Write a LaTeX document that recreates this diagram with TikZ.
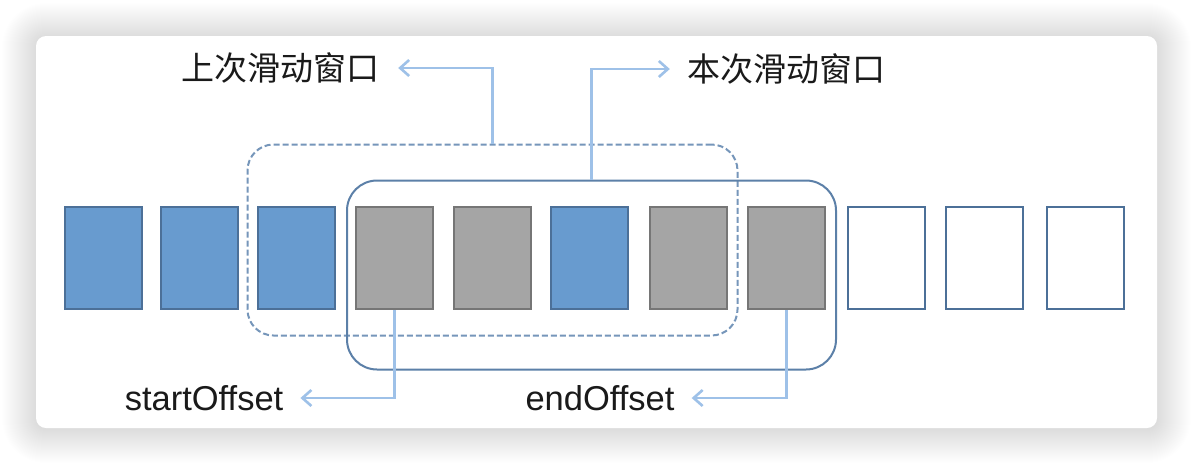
\documentclass[tikz,border=0pt]{standalone}
\usepackage{fontspec}
\setmainfont{Liberation Sans}
\newfontfamily\cjk{Noto Sans CJK SC}
\usetikzlibrary{arrows.meta}
\definecolor{boxblue}{RGB}{104,155,207}
\definecolor{boxedge}{RGB}{76,112,152}
\definecolor{grayfill}{RGB}{165,165,165}
\definecolor{grayedge}{RGB}{118,118,118}
\definecolor{winline}{RGB}{92,128,168}
\definecolor{windash}{RGB}{118,150,186}
\definecolor{arrowblue}{RGB}{158,193,232}
\definecolor{txt}{RGB}{26,26,26}
\tikzset{
  cell/.style={minimum width=77pt,minimum height=102pt,inner sep=0pt,line width=2pt,draw},
  bluecell/.style={cell,fill=boxblue,draw=boxedge},
  graycell/.style={cell,fill=grayfill,draw=grayedge},
  emptycell/.style={cell,fill=white,draw=boxedge},
  prevwin/.style={draw=windash,line width=2pt,dash pattern=on 6pt off 3pt,rounded corners=26pt,minimum width=490pt,minimum height=191pt,inner sep=0pt},
  curwin/.style={draw=winline,line width=2pt,rounded corners=30pt,minimum width=489pt,minimum height=189pt,inner sep=0pt},
  arr/.style={draw=arrowblue,line width=2.6pt,-{Straight Barb[length=9pt,width=16pt]}},
  cjklbl/.style={inner sep=0pt,text=txt,font=\cjk\fontsize{33}{38}\selectfont},
  latlbl/.style={inner sep=0pt,text=txt,font=\fontsize{34.5}{40}\selectfont}
}
\begin{document}
\begin{tikzpicture}[x=1pt,y=-1pt]
\useasboundingbox (0,0) rectangle (1194,464);
\fill[white] (0,0) rectangle (1194,464);
% soft shadow of the card
\foreach \r in {1,...,34}{
  \pgfmathsetmacro\rc{10+\r}
  \fill[black,opacity=0.0052,rounded corners=\rc pt] (36-\r,37-\r) rectangle (1157+\r,429+\r);
}
\fill[white,rounded corners=10pt] (36,36) rectangle (1157,428);

% cells
\foreach \i/\s/\x in {1/bluecell/103.5,2/bluecell/199.5,3/bluecell/296.5,4/graycell/394.5,5/graycell/492.5,6/bluecell/589.5,7/graycell/688.5,8/graycell/786.5,9/emptycell/886.5,10/emptycell/984.5,11/emptycell/1085}{
  \node[\s] (b\i) at (\x,258) {};
}

% windows
\node[prevwin] (prev) at (492.5,240) {};
\node[curwin] (cur) at (591.5,275) {};

% labels
\node[cjklbl] (lprev) at (280,68) {上次滑动窗口};
\node[cjklbl] (lcur) at (786,69) {本次滑动窗口};
\node[latlbl] (lstart) at (204,398) {startOffset};
\node[latlbl] (lend) at (600,398) {endOffset};

% connectors
\draw[arr] (prev.north) |- ([xshift=19pt]lprev.east);
\draw[arr] (cur.north) |- ([xshift=-17pt]lcur.west);
\draw[arr] (b4.south) |- ([xshift=17pt]lstart.east);
\draw[arr] (b8.south) |- ([xshift=17pt]lend.east);
\end{tikzpicture}
\end{document}
